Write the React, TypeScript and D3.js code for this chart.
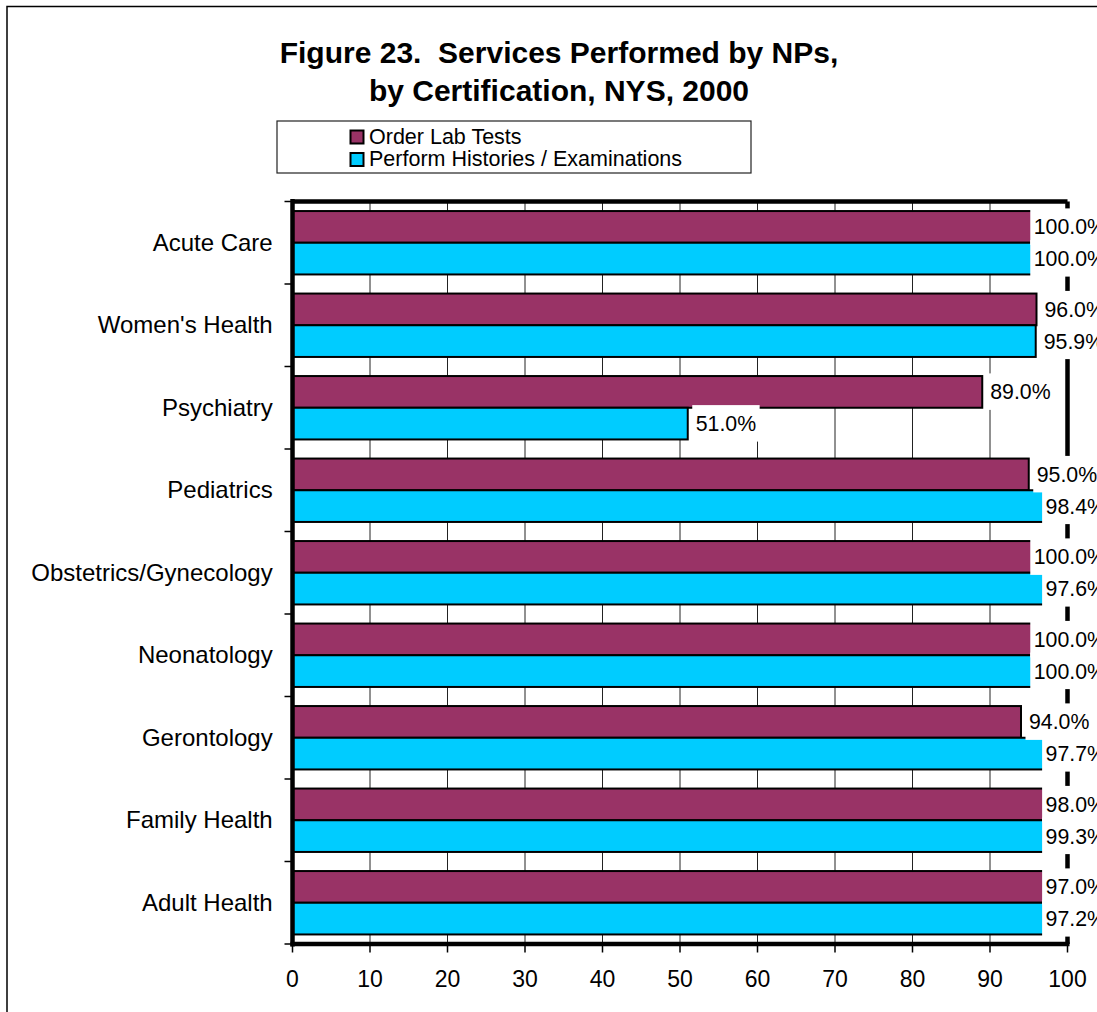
import React from "react";
import * as d3 from "d3";

const categories = [
  "Acute Care",
  "Women's Health",
  "Psychiatry",
  "Pediatrics",
  "Obstetrics/Gynecology",
  "Neonatology",
  "Gerontology",
  "Family Health",
  "Adult Health",
];
const orderLabTests = [100, 96, 89, 95, 100, 100, 94, 98, 97];
const performHistories = [100, 95.9, 51, 98.4, 97.6, 100, 97.7, 99.3, 97.2];
const seriesNames = ["Order Lab Tests", "Perform Histories / Examinations"];
const seriesColors = ["#993366", "#00CCFF"];
const xTicks = [0, 10, 20, 30, 40, 50, 60, 70, 80, 90, 100];
const titleLines = ["Figure 23.  Services Performed by NPs,", "by Certification, NYS, 2000"];

const FONT = "'Liberation Sans', Arial, Helvetica, sans-serif";

const charW: Record<string, number> = {
  "0": 0.556, "1": 0.556, "2": 0.556, "3": 0.556, "4": 0.556, "5": 0.556,
  "6": 0.556, "7": 0.556, "8": 0.556, "9": 0.556, ".": 0.278, "%": 0.889,
};
const textWidth = (s: string, size: number) =>
  s.split("").reduce((a, c) => a + (charW[c] ?? 0.556), 0) * size;

export default function App() {
  const W = 1097, H = 1012;
  const x = d3.scaleLinear().domain([0, 100]).range([292.5, 1067.5]);
  const y = d3.scaleBand<string>().domain(categories).range([201.5, 944]).padding(0);
  const bw = y.bandwidth();
  const barH = 31.7;
  const pad = (bw - 2 * barH) / 2;
  const series = [orderLabTests, performHistories];

  const labelSize = 21.3;
  const labelRight = 1106;

  const bars: JSX.Element[] = [];
  const labels: JSX.Element[] = [];
  categories.forEach((c, ci) => {
    series.forEach((vals, si) => {
      const v = vals[ci];
      const y0 = (y(c) as number) + pad + si * barH;
      const xe = x(v);
      bars.push(
        <rect key={`b${ci}-${si}`} x={x(0)} y={y0} width={xe - x(0)} height={barH}
          fill={seriesColors[si]} stroke="#000" strokeWidth={2} />
      );
      const txt = v.toFixed(1) + "%";
      const tw = textWidth(txt, labelSize);
      const tx = Math.min(xe + 8, labelRight - tw);
      const cy = y0 + barH / 2;
      labels.push(
        <g key={`l${ci}-${si}`}>
          <rect x={tx - 3.5} y={cy - 18.5} width={tw + 7} height={36.5} fill="#fff" />
          <text x={tx} y={cy + 7.4} fontSize={labelSize} fontFamily={FONT} fill="#000">{txt}</text>
        </g>
      );
    });
  });

  const boundaries = categories.map((c) => y(c) as number).concat([944]);

  return (
    <svg width={W} height={H} style={{ position: "absolute", left: 0, top: 0, background: "#fff" }}>
      <rect x={0} y={0} width={W} height={H} fill="#fff" />
      <rect x={7} y={6.5} width={W + 20} height={H + 20} fill="none" stroke="#000" strokeWidth={1.5} />

      {titleLines.map((t, i) => (
        <text key={i} x={559} y={63 + i * 38} textAnchor="middle" fontSize={30} fontWeight="bold"
          fontFamily={FONT} style={{ whiteSpace: "pre" }}>{t}</text>
      ))}

      <rect x={277} y={121} width={474} height={52} fill="#fff" stroke="#222" strokeWidth={1.2} />
      {seriesNames.map((n, i) => (
        <g key={n}>
          <rect x={350.5} y={130.5 + i * 22.5} width={13} height={13} fill={seriesColors[i]} stroke="#000" strokeWidth={2} />
          <text x={369} y={143.5 + i * 22.5} fontSize={21.5} fontFamily={FONT}>{n}</text>
        </g>
      ))}

      {xTicks.slice(1, -1).map((t) => (
        <line key={`g${t}`} x1={x(t)} x2={x(t)} y1={201.5} y2={944} stroke="#222" strokeWidth={1} />
      ))}

      {bars}

      <line x1={x(0)} x2={x(100)} y1={201.5} y2={201.5} stroke="#000" strokeWidth={4.5} />
      <line x1={x(100)} x2={x(100)} y1={201.5} y2={944} stroke="#000" strokeWidth={4.5} />
      <line x1={x(0)} x2={x(0)} y1={199} y2={946.5} stroke="#000" strokeWidth={4.5} />
      <line x1={x(0) - 2} x2={x(100) + 2} y1={944} y2={944} stroke="#000" strokeWidth={4.5} />

      {boundaries.map((b, i) => (
        <line key={`yt${i}`} x1={284.5} x2={x(0)} y1={b} y2={b} stroke="#000" strokeWidth={1.5} />
      ))}
      {xTicks.map((t) => (
        <g key={`xt${t}`}>
          <line x1={x(t)} x2={x(t)} y1={944} y2={952.5} stroke="#000" strokeWidth={1.5} />
          <text x={x(t)} y={986.5} textAnchor="middle" fontSize={23} fontFamily={FONT}>{t}</text>
        </g>
      ))}

      {categories.map((c) => (
        <text key={c} x={272.7} y={(y(c) as number) + bw / 2 + 7.8} textAnchor="end" fontSize={24} fontFamily={FONT}>{c}</text>
      ))}

      {labels}
    </svg>
  );
}
